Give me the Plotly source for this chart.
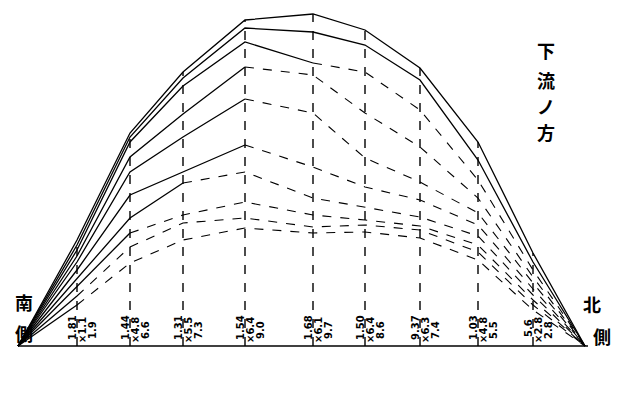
import plotly.graph_objects as go

# stations across the section (left bank = 0), arbitrary distance units
stations = [0, 59, 112, 165, 227, 295, 347, 402, 460, 515, 567]

# height of each curve at each station
curve_1 = [0, 106, 213, 274, 326, 332, 316, 278, 204, 93, 0]
curve_2 = [0, 101, 209, 268, 318, 314, 301, 266, 186, 84, 0]
curve_3 = [0, 96, 204, 260, 304, 283, 274, 236, 166, 76, 0]
curve_4 = [0, 90, 189, 232, 279, 271, 233, 199, 148, 69, 0]
curve_5 = [0, 84, 174, 209, 247, 233, 188, 164, 133, 63, 0]
curve_6 = [0, 76, 151, 174, 201, 179, 159, 146, 121, 57, 0]
curve_7 = [0, 68, 128, 163, 174, 148, 139, 129, 110, 51, 0]
curve_8 = [0, 59, 113, 131, 144, 131, 126, 120, 101, 46, 0]
curve_9 = [0, 50, 99, 123, 128, 119, 121, 116, 94, 41, 0]
curve_10 = [0, 41, 83, 106, 118, 113, 114, 108, 86, 36, 0]

curves = [curve_1, curve_2, curve_3, curve_4, curve_5,
          curve_6, curve_7, curve_8, curve_9, curve_10]
# index up to which each curve is drawn solid (rest dashed)
solid_until = [10, 10, 5, 4, 4, 4, 3, 2, 1, 1]

# bottom labels at each interior station
label_a = ["1.81", "1.44", "1.31", "1.54", "1.68", "1.50", "9.37", "1.03", "5.6"]
label_b = ["1.1", "4.8", "5.5", "6.4", "6.1", "6.4", "6.3", "4.8", "2.8"]
label_c = ["1.9", "6.6", "7.3", "9.0", "9.7", "8.6", "7.4", "5.5", "2.8"]

fig = go.Figure()

# curves
for c, s in zip(curves, solid_until):
    fig.add_trace(go.Scatter(x=stations[:s + 1], y=c[:s + 1], mode="lines",
                             line=dict(color="black", width=1.3),
                             showlegend=False, hoverinfo="skip"))
    if s < len(stations) - 1:
        fig.add_trace(go.Scatter(x=stations[s:], y=c[s:], mode="lines",
                                 line=dict(color="black", width=1.1, dash="dash"),
                                 showlegend=False, hoverinfo="skip"))

# vertical station lines
vx, vy = [], []
for i in range(1, len(stations) - 1):
    vx += [stations[i], stations[i], None]
    vy += [0, curve_1[i], None]
fig.add_trace(go.Scatter(x=vx, y=vy, mode="lines",
                         line=dict(color="black", width=1.4, dash="dash"),
                         showlegend=False, hoverinfo="skip"))

# baseline
fig.add_trace(go.Scatter(x=[stations[0], stations[-1] + 3], y=[0, 0], mode="lines",
                         line=dict(color="black", width=1.7),
                         showlegend=False, hoverinfo="skip"))

ann = []
lab_font = dict(family="DejaVu Sans", size=10, color="black")
for i in range(1, len(stations) - 1):
    xs = stations[i]
    ann.append(dict(x=xs - 5, y=18, text="<b>" + label_a[i - 1] + "</b>", textangle=-90,
                    showarrow=False, font=lab_font))
    ann.append(dict(x=xs + 5, y=16, text="<b>×" + label_b[i - 1] + "</b>", textangle=-90,
                    showarrow=False, font=lab_font))
    ann.append(dict(x=xs + 15, y=16, text="<b>" + label_c[i - 1] + "</b>", textangle=-90,
                    showarrow=False, font=lab_font))

cjk = dict(family="Noto Sans CJK JP", size=18, color="black")
for ch, yy in zip(["下", "流", "ノ", "方"], [296, 266, 240, 214]):
    ann.append(dict(x=528, y=yy, text="<b>" + ch + "</b>", showarrow=False, font=cjk))
ann.append(dict(x=6, y=44, text="<b>南</b>", showarrow=False, font=cjk))
ann.append(dict(x=6, y=13, text="<b>側</b>", showarrow=False, font=cjk))
ann.append(dict(x=574, y=42, text="<b>北</b>", showarrow=False, font=cjk))
ann.append(dict(x=584, y=10, text="<b>側</b>", showarrow=False, font=cjk))

fig.update_layout(
    width=640, height=395,
    margin=dict(l=0, r=0, t=0, b=0),
    paper_bgcolor="white", plot_bgcolor="white",
    xaxis=dict(range=[-10, 630], visible=False),
    yaxis=dict(range=[-57, 338], visible=False),
    annotations=ann,
)

fig.write_html("out.html")
